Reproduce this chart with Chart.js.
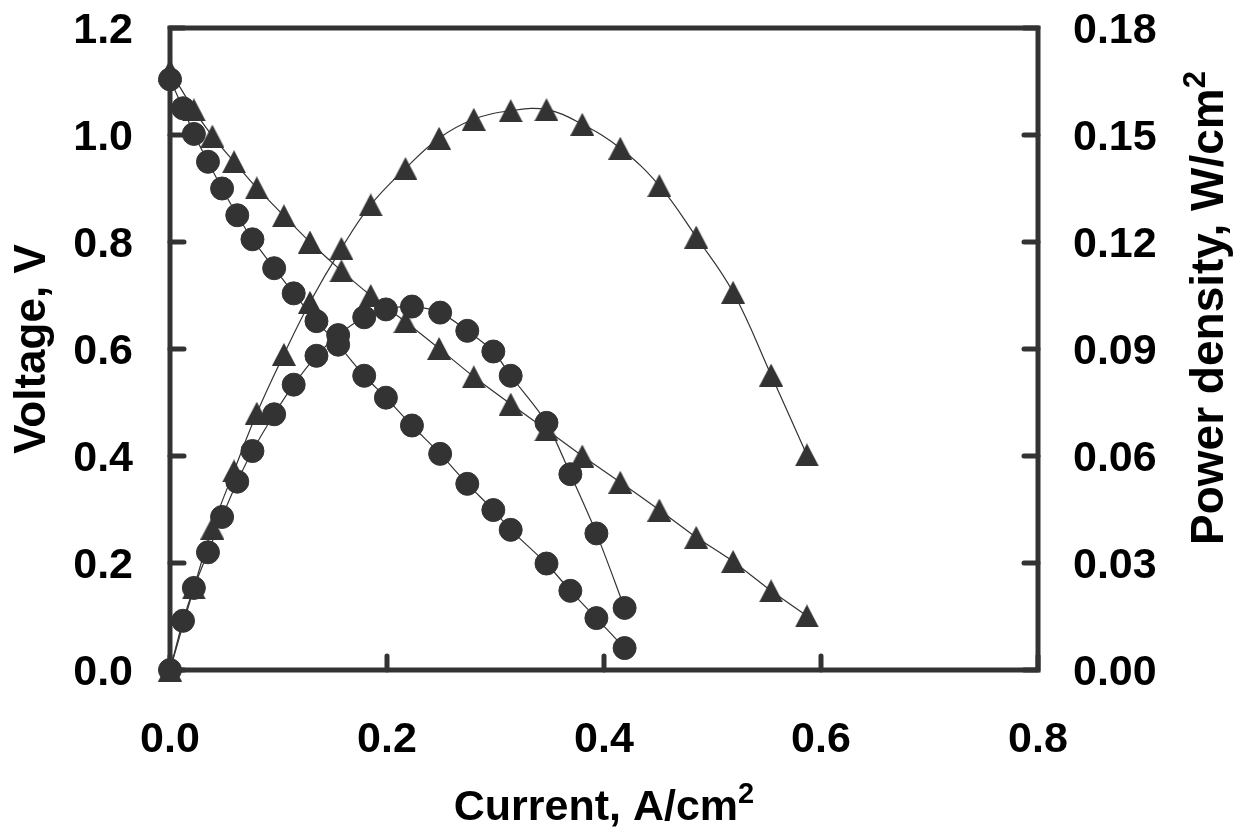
<!DOCTYPE html>
<html>
<head>
<meta charset="utf-8">
<title>Polarization and power density curves</title>
<script src="https://cdn.jsdelivr.net/npm/chart.js@4.4.1/dist/chart.umd.min.js"></script>
<style>
    html, body { margin: 0; padding: 0; background: #ffffff; }
    #wrap { width: 1251px; height: 834px; }
</style>
</head>
<body>
<div id="wrap"><canvas id="polarChart"></canvas></div>
<script>
// values
// circles
const currentCircle = [0, 0.012, 0.022, 0.035, 0.048, 0.062, 0.076, 0.096, 0.114, 0.135, 0.155,
    0.179, 0.199, 0.223, 0.249, 0.274, 0.298, 0.314, 0.347, 0.369, 0.393, 0.419];
const voltageCircle = [1.104, 1.05, 1.002, 0.95, 0.90, 0.85, 0.805, 0.751, 0.704, 0.652, 0.608,
    0.55, 0.509, 0.457, 0.404, 0.348, 0.299, 0.262, 0.199, 0.148, 0.097, 0.041];
const powerCircle = [0, 0.0138, 0.0230, 0.0330, 0.0429, 0.0528, 0.0614, 0.0717, 0.0800, 0.0881, 0.0939,
    0.0989, 0.1011, 0.1019, 0.1002, 0.0951, 0.0893, 0.0825, 0.0693, 0.0549, 0.0383, 0.0174];

// triangles
const currentTriangle = [0, 0.022, 0.039, 0.059, 0.08, 0.105, 0.129, 0.158, 0.185, 0.217, 0.248,
    0.28, 0.314, 0.347, 0.38, 0.415, 0.451, 0.485, 0.519, 0.554, 0.587];
const voltageTriangle = [1.12, 1.047, 0.998, 0.95, 0.901, 0.849, 0.80, 0.746, 0.70, 0.651, 0.601,
    0.548, 0.497, 0.449, 0.40, 0.351, 0.299, 0.248, 0.203, 0.148, 0.101];
const powerTriangle = [0, 0.0230, 0.0398, 0.0558, 0.0720, 0.0885, 0.1031, 0.1182, 0.1304, 0.1406, 0.1491,
    0.1544, 0.1568, 0.1571, 0.1530, 0.1463, 0.1358, 0.1214, 0.1059, 0.0827, 0.0603];

// axis ticks
const currentTicks = [0, 0.2, 0.4, 0.6, 0.8];
const voltageTicks = [0, 0.2, 0.4, 0.6, 0.8, 1.0, 1.2];
const powerTicks = [0, 0.03, 0.06, 0.09, 0.12, 0.15, 0.18];

const INK = '#333333';
const FAMILY = "'Liberation Sans', Arial, Helvetica, sans-serif";

function toPoints(xs, ys) {
    return xs.map((x, i) => ({ x: x, y: ys[i] }));
}

// triangle marker centred on its bounding box, like the spreadsheet markers
function triangleMarker(w, h) {
    const c = document.createElement('canvas');
    c.width = w;
    c.height = h;
    const g = c.getContext('2d');
    g.fillStyle = INK;
    g.beginPath();
    g.moveTo(w / 2, 0);
    g.lineTo(w, h);
    g.lineTo(0, h);
    g.closePath();
    g.fill();
    return c;
}
const triangle = triangleMarker(24, 23);

function series(xs, ys, axis, marker, tension) {
    return {
        data: toPoints(xs, ys),
        yAxisID: axis,
        showLine: true,
        borderColor: INK,
        borderWidth: 1.2,
        tension: tension,
        pointStyle: marker,
        pointRadius: marker === 'circle' ? 11.5 : 12,
        pointBackgroundColor: INK,
        pointBorderColor: INK,
        pointBorderWidth: 1,
        clip: false
    };
}

// text with a raised "2" at the end (cm²)
function drawWithSup(ctx, main, sup, x, y, size) {
    ctx.font = 'bold ' + size + 'px ' + FAMILY;
    const wMain = ctx.measureText(main).width;
    const supSize = Math.round(size * 0.67);
    ctx.font = 'bold ' + supSize + 'px ' + FAMILY;
    const wSup = ctx.measureText(sup).width;
    const start = x - (wMain + wSup) / 2;
    ctx.textAlign = 'left';
    ctx.textBaseline = 'alphabetic';
    ctx.font = 'bold ' + size + 'px ' + FAMILY;
    ctx.fillText(main, start, y);
    ctx.font = 'bold ' + supSize + 'px ' + FAMILY;
    ctx.fillText(sup, start + wMain, y - Math.round(size * 0.4));
}

// frame round the plot, inward tick marks
const framePlugin = {
    id: 'frame',
    beforeDatasetsDraw(chart) {
        const { ctx, chartArea: a, scales } = chart;
        ctx.save();
        ctx.strokeStyle = INK;
        ctx.lineWidth = 5;
        ctx.lineCap = 'round';
        const len = 14;
        ctx.beginPath();
        currentTicks.forEach(v => {
            const px = scales.x.getPixelForValue(v);
            ctx.moveTo(px, a.bottom);
            ctx.lineTo(px, a.bottom - len);
        });
        voltageTicks.forEach(v => {
            const py = scales.y.getPixelForValue(v);
            ctx.moveTo(a.left, py);
            ctx.lineTo(a.left + len, py);
        });
        powerTicks.forEach(v => {
            const py = scales.y2.getPixelForValue(v);
            ctx.moveTo(a.right, py);
            ctx.lineTo(a.right - len, py);
        });
        ctx.stroke();
        ctx.lineCap = 'butt';
        ctx.strokeRect(a.left, a.top, a.right - a.left, a.bottom - a.top);
        ctx.restore();
    }
};

// tick labels and axis titles
const labelPlugin = {
    id: 'labels',
    afterDraw(chart) {
        const { ctx, chartArea: a, scales } = chart;
        ctx.save();
        ctx.fillStyle = '#000000';
        ctx.font = 'bold 43px ' + FAMILY;
        ctx.textBaseline = 'alphabetic';

        ctx.textAlign = 'center';
        currentTicks.forEach(v => {
            ctx.fillText(v.toFixed(1), scales.x.getPixelForValue(v), a.bottom + 82);
        });
        ctx.textAlign = 'right';
        voltageTicks.forEach(v => {
            ctx.fillText(v.toFixed(1), a.left - 37, scales.y.getPixelForValue(v) + 15);
        });
        ctx.textAlign = 'left';
        powerTicks.forEach(v => {
            ctx.fillText(v.toFixed(2), a.right + 35, scales.y2.getPixelForValue(v) + 15);
        });

        // x title
        drawWithSup(ctx, 'Current, A/cm', '2', (a.left + a.right) / 2, a.bottom + 150, 43);

        // left title
        ctx.save();
        ctx.translate(45, (a.top + a.bottom) / 2);
        ctx.rotate(-Math.PI / 2);
        ctx.font = 'bold 44px ' + FAMILY;
        ctx.textAlign = 'center';
        ctx.fillText('Voltage, V', 0, 0);
        ctx.restore();

        // right title
        ctx.save();
        ctx.translate(1223, 308);
        ctx.rotate(-Math.PI / 2);
        drawWithSup(ctx, 'Power density, W/cm', '2', 0, 0, 46);
        ctx.restore();

        ctx.restore();
    }
};

const ctx = document.getElementById('polarChart').getContext('2d');
new Chart(ctx, {
    type: 'scatter',
    data: {
        datasets: [
            series(currentCircle, voltageCircle, 'y', 'circle', 0.2),
            series(currentCircle, powerCircle, 'y2', 'circle', 0.3),
            series(currentTriangle, voltageTriangle, 'y', triangle, 0.2),
            series(currentTriangle, powerTriangle, 'y2', triangle, 0.4)
        ]
    },
    options: {
        responsive: true,
        maintainAspectRatio: false,
        animation: false,
        events: [],
        layout: { padding: { top: 28, left: 170, right: 213, bottom: 164 } },
        plugins: {
            legend: { display: false },
            tooltip: { enabled: false }
        },
        scales: {
            x: {
                type: 'linear',
                min: 0,
                max: 0.8,
                ticks: { display: false },
                grid: { display: false, drawTicks: false },
                border: { display: false }
            },
            y: {
                position: 'left',
                min: 0,
                max: 1.2,
                ticks: { display: false },
                grid: { display: false, drawTicks: false },
                border: { display: false }
            },
            y2: {
                position: 'right',
                min: 0,
                max: 0.18,
                ticks: { display: false },
                grid: { display: false, drawTicks: false },
                border: { display: false }
            }
        }
    },
    plugins: [framePlugin, labelPlugin]
});
</script>
</body>
</html>
